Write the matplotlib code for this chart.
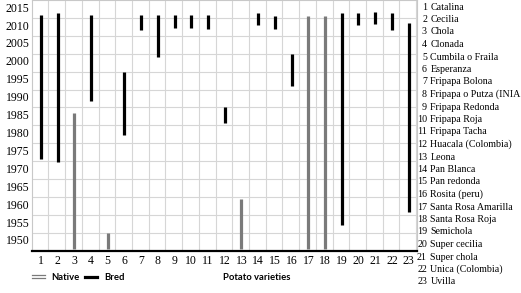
import numpy as np
import matplotlib
matplotlib.use("Agg")
import matplotlib.pyplot as plt
from matplotlib.lines import Line2D

# variety index, first and last year each variety is recorded
varieties = ["Catalina", "Cecilia", "Chola", "Clonada", "Cumbila o Fraila",
             "Esperanza", "Fripapa Bolona", "Fripapa o Putza (INIA",
             "Fripapa Redonda", "Fripapa Roja", "Fripapa Tacha",
             "Huacala (Colombia)", "Leona", "Pan Blanca", "Pan redonda",
             "Rosita (peru)", "Santa Rosa Amarilla", "Santa Rosa Roja",
             "Semichola", "Super cecilia", "Super chola", "Unica (Colombia)",
             "Uvilla"]
var_num = list(range(1, 24))
start_year = [1972.5, 1971.9, 1947.6, 1988.8, 1947.6, 1979.2, 2008.6, 2001.2,
              2009.2, 2009.2, 2009.0, 1982.6, 1947.6, 2009.9, 2009.0, 1993.0,
              1947.6, 1947.6, 1954.2, 2009.9, 2010.3, 2008.6, 1957.7]
end_year = [2012.9, 2013.3, 1985.4, 2012.9, 1951.9, 1996.9, 2012.7, 2012.9,
            2012.9, 2012.9, 2012.7, 1987.0, 1961.5, 2013.5, 2012.6, 2001.9,
            2012.5, 2012.5, 2013.3, 2013.5, 2013.7, 2013.3, 2010.7]
origin = ["bred", "bred", "native", "bred", "native", "bred", "bred", "bred",
          "bred", "bred", "bred", "bred", "native", "bred", "bred", "bred",
          "native", "native", "bred", "bred", "bred", "bred", "bred"]
year_ticks = list(range(1950, 2016, 5))

serif = "Liberation Serif"
W, H = 521, 293
fig = plt.figure(figsize=(W / 100, H / 100), dpi=100)
ax = fig.add_axes([32 / W, (H - 250.7) / H, (417 - 32) / W, 250.7 / H])

colors = {"native": "#7a7a7a", "bred": "black"}
for o in ["native", "bred"]:
    idx = [i for i, v in enumerate(origin) if v == o]
    ax.vlines([var_num[i] for i in idx], [start_year[i] for i in idx],
              [end_year[i] for i in idx], colors=colors[o], lw=2.3, zorder=3)

ax.set_xlim(0.47, 23.5)
ax.set_ylim(1947, 2017)
ax.set_xticks(var_num)
ax.set_xticklabels([str(v) for v in var_num], fontfamily=serif, fontsize=8.5)
ax.set_yticks(year_ticks)
ax.set_yticklabels([str(y) for y in year_ticks], fontfamily=serif, fontsize=8.5)
ax.set_xticks(np.arange(1.45, 23.5, 1), minor=True)
ax.set_yticks(np.arange(1952, 2017, 5), minor=True)
ax.tick_params(which="both", length=0)
ax.tick_params(axis="x", pad=3)
ax.tick_params(axis="y", pad=2)
ax.grid(which="minor", color="#d6d6d6", lw=0.8)
for s in ["left", "top", "right"]:
    ax.spines[s].set_color("#c8c8c8")
    ax.spines[s].set_linewidth(0.8)
ax.spines["bottom"].set_linewidth(1.6)

# numbered list of varieties on the right
for k, (n, name) in enumerate(zip(var_num, varieties)):
    y = 1 - (7 + 12.5 * k) / H
    fig.text(427 / W, y, str(n), ha="right", va="center",
             fontfamily=serif, fontsize=7.2)
    fig.text(430.5 / W, y, name, ha="left", va="center",
             fontfamily=serif, fontsize=7.2)

# bottom legend
ly = 1 - 277 / H
fig.add_artist(Line2D([32 / W, 45 / W], [1 - 275.3 / H] * 2, color="#7a7a7a", lw=0.9))
fig.add_artist(Line2D([32 / W, 45 / W], [1 - 278.3 / H] * 2, color="#7a7a7a", lw=0.9))
fig.text(51.5 / W, ly, "Native", fontfamily="Lato", fontweight="bold",
         fontsize=6.8, va="center")
fig.add_artist(Line2D([85 / W, 97 / W], [1 - 276.5 / H] * 2, color="black", lw=2.3))
fig.text(104 / W, ly, "Bred", fontfamily="Lato", fontweight="bold",
         fontsize=6.8, va="center")
fig.text(223 / W, ly, "Potato varieties", fontfamily="Lato", fontweight="bold",
         fontsize=6.8, va="center")

fig.savefig("out.png", dpi=100)
